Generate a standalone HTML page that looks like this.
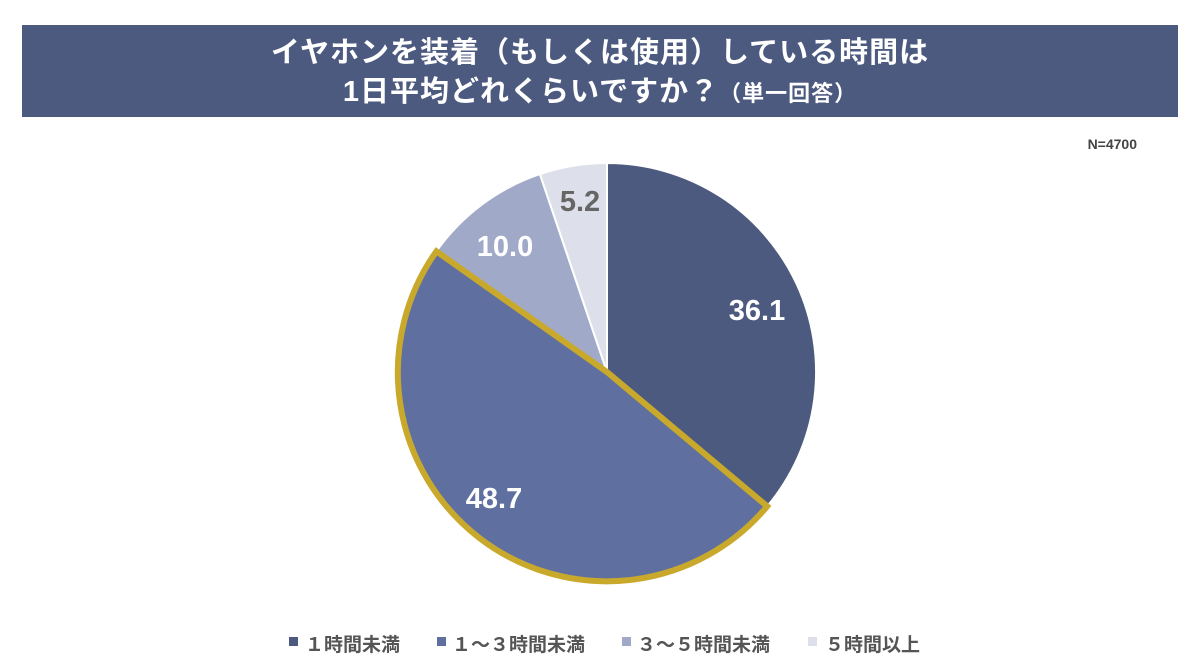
<!DOCTYPE html>
<html><head><meta charset="utf-8"><style>
body{margin:0;width:1200px;height:671px;background:#fff;overflow:hidden;font-family:"Liberation Sans","Noto Sans CJK JP",sans-serif}
</style></head><body>
<svg width="1200" height="671" xmlns="http://www.w3.org/2000/svg" style="position:absolute;left:0;top:0">
<rect x="22" y="25" width="1156" height="92" fill="#4d5a80"/>
<g font-family="'Liberation Sans','Noto Sans CJK JP',sans-serif" font-weight="bold" fill="#fff" text-anchor="middle">
<text x="600" y="62" font-size="29" letter-spacing="1">イヤホンを装着（もしくは使用）している時間は</text>
<text x="600" y="101" font-size="29" letter-spacing="1">1日平均どれくらいですか？<tspan font-size="22">（単一回答）</tspan></text>
</g>
<text x="1137" y="149" font-size="14" font-weight="bold" fill="#444" text-anchor="end" font-family="'Liberation Sans',sans-serif">N=4700</text>
<g stroke="#fff" stroke-width="2">
<path d="M607,372 L607,163 A209,209 0 0 1 767.2,506.3 Z" fill="#4d5a80"/>
<path d="M607,372 L436.4,251.3 A209,209 0 0 1 539.9,174.1 Z" fill="#a0aac8"/>
<path d="M607,372 L539.9,174.1 A209,209 0 0 1 607,163 Z" fill="#dde0ea"/>
</g>
<path d="M607,372 L767.2,506.3 A209,209 0 0 1 436.4,251.3 Z" fill="#5f70a0" stroke="#c9a92c" stroke-width="6" stroke-linejoin="miter"/>
<g font-family="'Liberation Sans',sans-serif" font-weight="bold" font-size="29" text-anchor="middle" fill="#fff">
<text x="757" y="320">36.1</text>
<text x="494" y="508">48.7</text>
<text x="505" y="256">10.0</text>
<text x="580" y="211" fill="#666">5.2</text>
</g>
<g font-family="'Liberation Sans','Noto Sans CJK JP',sans-serif" font-size="19" fill="#555" font-weight="bold">
<rect x="289" y="637" width="9" height="9" fill="#4d5a80"/>
<text x="305" y="651">１時間未満</text>
<rect x="437" y="637" width="9" height="9" fill="#5f70a0"/>
<text x="452" y="651">１～３時間未満</text>
<rect x="622" y="637" width="9" height="9" fill="#a0aac8"/>
<text x="637" y="651">３～５時間未満</text>
<rect x="808" y="637" width="9" height="9" fill="#dde0ea"/>
<text x="825" y="651">５時間以上</text>
</g>
</svg>
</body></html>
